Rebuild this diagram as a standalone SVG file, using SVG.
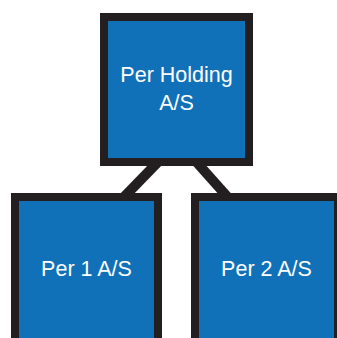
<svg xmlns="http://www.w3.org/2000/svg" width="337" height="338" viewBox="0 0 337 338">
  <style>
    .box { fill: #1071b8; stroke: #231f20; stroke-width: 8; }
    .edge { stroke: #231f20; stroke-width: 10; fill: none; }
    .label { fill: #ffffff; font-family: "Liberation Sans", Arial, sans-serif; font-size: 21.5px; text-anchor: middle; }
  </style>
  <rect width="337" height="338" fill="#ffffff"/>
  <g id="connectors">
    <line class="edge" x1="158" y1="162" x2="124" y2="197"/>
    <line class="edge" x1="196.4" y1="162" x2="227.6" y2="197"/>
  </g>
  <g id="per-holding">
    <rect class="box" x="104" y="17" width="145" height="145"/>
    <text class="label" x="176.5" y="82">Per Holding</text>
    <text class="label" x="176.5" y="110">A/S</text>
  </g>
  <g id="per-1">
    <rect class="box" x="15" y="197" width="143" height="160"/>
    <text class="label" x="86.5" y="276">Per 1 A/S</text>
  </g>
  <g id="per-2">
    <rect class="box" x="195" y="197" width="143" height="160"/>
    <text class="label" x="266.5" y="276">Per 2 A/S</text>
  </g>
</svg>
